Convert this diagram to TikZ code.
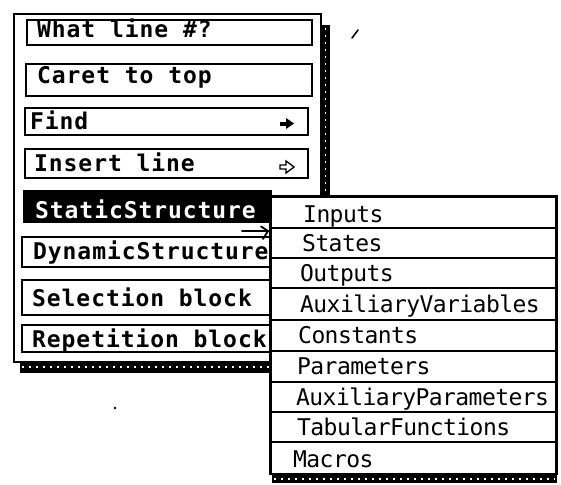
\documentclass[tikz,border=0pt]{standalone}
\usepackage{fontspec}
\newfontfamily\mmfont[LetterSpace=4]{DejaVu Sans Mono}
\newfontfamily\smfont[LetterSpace=-2.5]{DejaVu Sans Mono}
\tikzset{
  frame/.style={draw, line width=2pt, rectangle, inner sep=0pt},
  itembox/.style={draw, line width=1.6pt, rectangle, inner sep=0pt, fill=white},
  selbox/.style={fill=black, rectangle, inner sep=0pt},
  itemtext/.style={anchor=base west, inner sep=0pt, font=\mmfont\bfseries\fontsize{23}{23}\selectfont},
  subrow/.style={draw, line width=1.6pt, rectangle, inner sep=0pt, fill=white, minimum width=285pt},
  subtext/.style={anchor=base west, inner sep=0pt, font=\smfont\fontsize{23}{23}\selectfont},
  shadowbar/.style={fill=black},
  speck/.style={white, line width=1.6pt, dash pattern=on 2pt off 5pt},
  cursor/.style={line width=1.8pt, line cap=round}
}
\begin{document}
\begin{tikzpicture}[x=1pt,y=-1pt]
\useasboundingbox (0,0) rectangle (561,484);
% main menu frame and its shadows
\node[frame, minimum width=307pt, minimum height=348pt] (mainframe) at (167.5,188) {};
\fill[shadowbar] (321,25) rectangle (330,197);
\draw[speck] (325.5,28) -- (325.5,195);
\fill[shadowbar] (20,363) rectangle (272,373);
\draw[speck] (22,367) -- (270,367);
% items
\node[itembox, minimum width=285pt, minimum height=25pt] (bwhat) at (169.5,32.5) {};
\node[itemtext] (twhat) at (37,38) {What line \#?};
\node[itembox, minimum width=286pt, minimum height=32pt] (bcaret) at (169,80) {};
\node[itemtext] (tcaret) at (37,84) {Caret to top};
\node[itembox, minimum width=283pt, minimum height=27pt] (bfind) at (166.5,121.5) {};
\node[itemtext] (tfind) at (30,129) {Find};
\node[itembox, minimum width=283pt, minimum height=29pt] (binsert) at (166.5,163.5) {};
\node[itemtext] (tinsert) at (34,171) {Insert line};
\node[selbox, minimum width=249pt, minimum height=33pt] (bstatic) at (147.5,206.5) {};
\node[itemtext, text=white] (tstatic) at (35,218) {StaticStructure};
\node[itembox, minimum width=268pt, minimum height=30pt] (bdyn) at (156,252) {};
\node[itemtext] (tdyn) at (33,259) {DynamicStructure};
\node[itembox, minimum width=268pt, minimum height=35pt] (bsel) at (156,297.5) {};
\node[itemtext] (tsel) at (32,306) {Selection block};
\node[itembox, minimum width=268pt, minimum height=27pt] (brep) at (156,338.5) {};
\node[itemtext] (trep) at (32,347) {Repetition block};
% submenu arrows
\fill (280,121.5) rectangle (287,125.5);
\fill (286,118) -- (294,123.5) -- (286,129) -- cycle;
\draw[line width=1.3pt, line join=miter] (280,165) -- (286,165) -- (286,161) -- (294,167) -- (286,173) -- (286,169) -- (280,169) -- cycle;
% submenu
\node[subrow, minimum height=31pt] (r1) at (413.5,212.5) {};
\node[subrow, minimum height=30pt] (r2) at (413.5,243) {};
\node[subrow, minimum height=30pt] (r3) at (413.5,273) {};
\node[subrow, minimum height=32pt] (r4) at (413.5,304) {};
\node[subrow, minimum height=31pt] (r5) at (413.5,335.5) {};
\node[subrow, minimum height=31pt] (r6) at (413.5,366.5) {};
\node[subrow, minimum height=30pt] (r7) at (413.5,397) {};
\node[subrow, minimum height=30pt] (r8) at (413.5,427) {};
\node[subrow, minimum height=32pt] (r9) at (413.5,458) {};
\draw[line width=3pt] (r1.north west) -- (r9.south west);
\draw[line width=2pt] (r1.north west) -- (r1.north east) -- (r9.south east);
\node[subtext] (s1) at (303,222) {Inputs};
\node[subtext] (s2) at (302,251) {States};
\node[subtext] (s3) at (300,281) {Outputs};
\node[subtext] (s4) at (300,312) {AuxiliaryVariables};
\node[subtext] (s5) at (298,343) {Constants};
\node[subtext] (s6) at (297,374) {Parameters};
\node[subtext] (s7) at (296,405) {AuxiliaryParameters};
\node[subtext] (s8) at (297,435) {TabularFunctions};
\node[subtext] (s9) at (293,467) {Macros};
\fill[shadowbar] (272,475) rectangle (557,483);
\draw[speck] (274,479) -- (555,479);
% cursor arrow
\coordinate (ctail) at (242,231);
\coordinate (ctip) at (268,231);
\draw[cursor] (ctail) -- (ctip);
\draw[cursor] (261,226.5) -- (ctip) -- (263,239);
% stray marks
\draw[line width=1.6pt, line cap=round] (352,38) -- (358,30);
\fill (115,408) circle (1.3pt);
\end{tikzpicture}
\end{document}
